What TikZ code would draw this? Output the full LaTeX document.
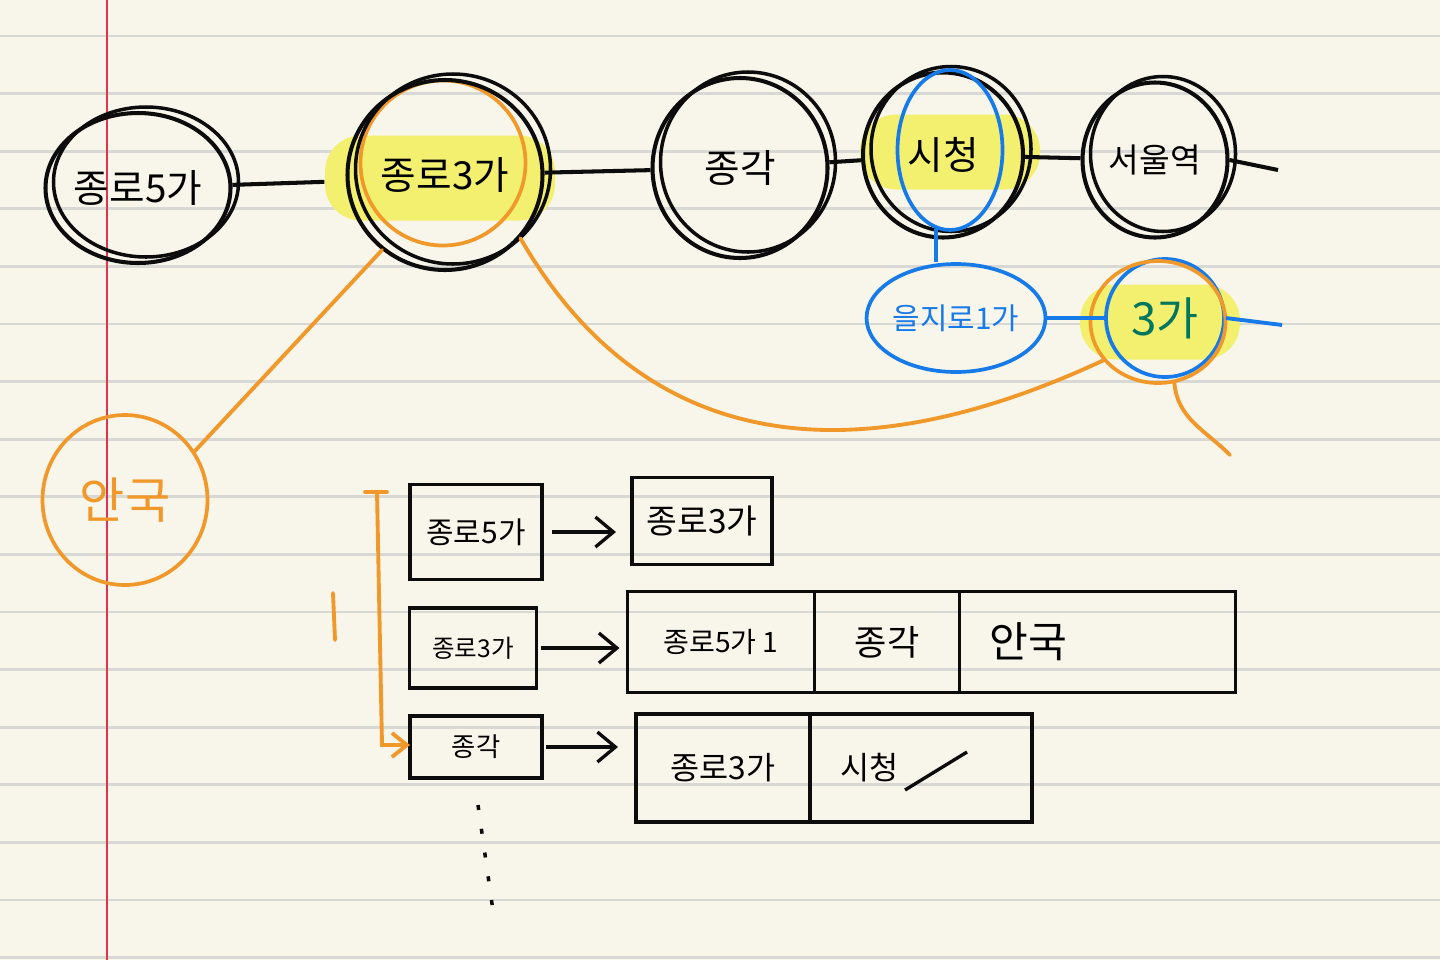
\documentclass[tikz,border=0pt]{standalone}
\usepackage{fontspec}
\setmainfont{Noto Sans CJK KR}
\usepackage{tikz}
\usetikzlibrary{arrows.meta,positioning,shapes.geometric}
\definecolor{paper}{RGB}{248,246,234}
\definecolor{ruled}{RGB}{216,216,213}
\definecolor{margin}{RGB}{222,52,82}
\definecolor{ink}{RGB}{12,12,12}
\definecolor{orangepen}{RGB}{241,152,42}
\definecolor{bluepen}{RGB}{22,122,232}
\definecolor{greenpen}{RGB}{0,118,92}
\definecolor{marker}{RGB}{243,240,112}
\tikzset{
  sta/.style={
    ellipse, draw=ink, line width=1.15pt, inner sep=0pt,
    font=\fontsize{11}{12}\selectfont,
    preaction={draw=ink, line width=1pt, transform canvas={shift={(#1)}}},
  },
  sta/.default={0.8mm,0.6mm},
  ring/.style={ellipse, draw=#1, line width=1.05pt, inner sep=0pt},
  hilite/.style={fill=marker, rounded corners=3.6mm, inner sep=0pt},
  box/.style={draw=ink, line width=0.9pt, inner sep=0pt, outer sep=0pt},
  link/.style={draw=ink, line width=1.15pt},
  olink/.style={draw=orangepen, line width=1.1pt, line cap=round},
  blink/.style={draw=bluepen, line width=1.1pt},
  push/.style={-{Straight Barb[length=1.8mm, width=3mm]}, draw=ink, line width=0.95pt},
}

\begin{document}
\begin{tikzpicture}[x=0.1mm,y=-0.1mm]
  \useasboundingbox (0,0) rectangle (1440,960);
  \fill[paper] (0,0) rectangle (1440,960);
  \foreach \k in {0,...,16}{
    \pgfmathsetmacro\ry{36+57.6*\k}
    \draw[ruled, line width=0.8pt] (0,\ry) -- (1440,\ry);
  }
  \draw[margin, line width=0.7pt] (107,0) -- (107,960);

  % line 1
  \node[sta, minimum width=18.5mm, minimum height=15mm] (s5) at (138,188) {종로5가};
  \node[hilite, minimum width=23mm, minimum height=8.5mm] (hl3) at (440,178) {};
  \node[ring=orangepen, minimum width=16.5mm, minimum height=16.5mm] (o3) at (443,163) {};
  \node[sta, minimum width=19.5mm, minimum height=19mm] (s3) at (445,175) {종로3가};
  \node[sta, minimum width=17.5mm, minimum height=18mm] (sg) at (740,168) {종각};
  \node[hilite, minimum width=18mm, minimum height=7.5mm] (hlc) at (950,152) {};
  \node[sta, minimum width=16mm, minimum height=16.5mm] (sc) at (943,155) {시청};
  \node[ring=bluepen, minimum width=10.5mm, minimum height=16mm] (bc) at (950,150) {};
  \node[sta, minimum width=14.5mm, minimum height=15.5mm, font=\fontsize{9.5}{11}\selectfont] (ss) at (1155,160) {서울역};
  \coordinate (ssend) at (1278,170);
  \draw[link] (s5) -- (hl3);
  \draw[link] (s3) -- (sg);
  \draw[link] (sg) -- (sc);
  \draw[link] (sc) -- (ss);
  \draw[link] (ss.east) -- (ssend);

  % line 2
  \node[ring=bluepen, minimum width=16.5mm, minimum height=10.8mm, text=bluepen, font=\fontsize{8.5}{10}\selectfont] (eu) at (956,318) {을지로1가};
  \node[hilite, minimum width=16mm, minimum height=7.5mm] (hle) at (1160,322) {};
  \node[ring=bluepen, minimum width=11.8mm, minimum height=11.8mm, text=greenpen, font=\fontsize{13}{14}\selectfont] (e3) at (1165,318) {3가};
  \node[ring=orangepen, minimum width=13.5mm, minimum height=12.2mm] (e3o) at (1158,322) {};
  \coordinate (e3end) at (1282,325);
  \draw[blink] (bc.-100) -- (bc.-100 |- eu.north);
  \draw[blink] (eu) -- (e3);
  \draw[blink] (e3.east) -- (e3end);

  % line 3
  \node[ring=orangepen, minimum width=16.5mm, minimum height=17mm, text=orangepen, font=\fontsize{14}{15}\selectfont] (an) at (125,500) {안국};
  \coordinate (otail) at (1230,455);
  \draw[olink] (an.35) -- (s3.-130);
  \draw[olink] (s3.-40) to[out=-60, in=205, looseness=1.12] (e3o.215);
  \draw[olink] (e3o.-75) to[out=-85, in=135] (otail);

  % adjacency list
  \node[box, minimum width=13.2mm, minimum height=9.5mm, font=\fontsize{8.5}{10}\selectfont] (rb1) at (476,532) {종로5가};
  \node[box, minimum width=14mm, minimum height=8.7mm, font=\fontsize{9.5}{11}\selectfont] (rc1) at (702,521) {종로3가};
  \draw[push, shorten <=1mm, shorten >=1.6mm] (rb1.east) -- (rc1.west |- rb1.east);

  \node[box, minimum width=12.7mm, minimum height=8mm, font=\fontsize{7}{8}\selectfont] (rb2) at (473,648) {종로3가};
  \node[box, minimum width=18.7mm, minimum height=10.1mm, font=\fontsize{8}{9}\selectfont] (c21) at (721,642) {종로5가 1};
  \node[box, minimum width=14.5mm, minimum height=10.1mm, font=\fontsize{10}{11}\selectfont, right=0pt of c21] (c22) {종각};
  \node[box, minimum width=27.6mm, minimum height=10.1mm, font=\fontsize{12}{13}\selectfont, text width=21.6mm, inner xsep=3mm, align=left, right=0pt of c22] (c23) {안국};
  \draw[push, shorten <=0.4mm, shorten >=0.8mm] (rb2.east) -- (c21.west |- rb2.east);

  \node[box, minimum width=13.2mm, minimum height=6.2mm, font=\fontsize{7.5}{8}\selectfont] (rb3) at (476,747) {종각};
  \node[box, minimum width=17.4mm, minimum height=10.8mm, font=\fontsize{9}{10}\selectfont] (c31) at (723,768) {종로3가};
  \node[box, minimum width=22.2mm, minimum height=10.8mm, font=\fontsize{9}{10}\selectfont, text width=16.2mm, inner xsep=3mm, align=left, right=0pt of c31] (c32) {시청};
  \draw[push, shorten <=0.4mm, shorten >=1.8mm] (rb3.east) -- (c31.west |- rb3.east);
  \draw[link, line width=0.95pt] ([shift={(-1.6mm,-2.2mm)}]c32.center) -- ([shift={(4.6mm,1.6mm)}]c32.center);

  \coordinate (bt) at (377,492);
  \coordinate (bb) at (382,745);
  \coordinate (tk1) at (333,593);
  \coordinate (tk2) at (335,640);
  \draw[olink] ([xshift=-1.2mm]bt) -- ([xshift=1mm]bt);
  \draw[olink, -{Straight Barb[length=1.5mm, width=2.4mm]}] (bt) -- (bb) -- (rb3.west |- bb);
  \draw[olink] (tk1) -- (tk2);

  \coordinate (dt1) at (478,805);
  \coordinate (dt2) at (494,918);
  \draw[ink, line width=1pt, dash pattern=on 0.5mm off 1.9mm] (dt1) -- (dt2);
\end{tikzpicture}
\end{document}
